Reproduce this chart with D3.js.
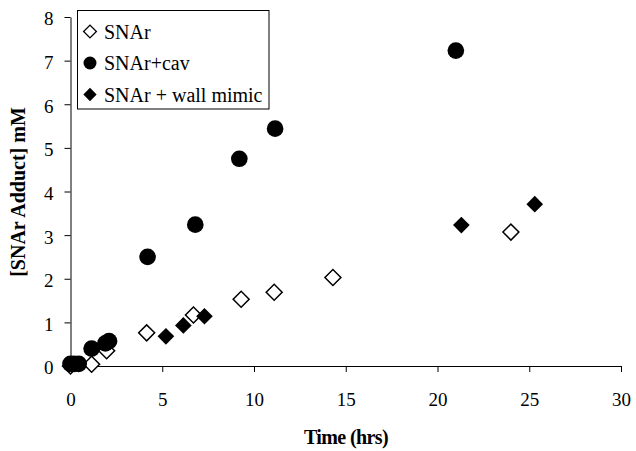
<!DOCTYPE html>
<html>
<head>
<meta charset="utf-8">
<script src="https://cdn.jsdelivr.net/npm/d3@7"></script>
<style>
  body { margin: 0; background: #fff; }
  svg text { font-family: 'Liberation Serif', 'Times New Roman', serif; fill: #000; }
</style>
</head>
<body>
<svg width="636" height="451"></svg>
<script>
// Data
const snarTime = [0, 1.15, 1.97, 4.15, 6.7, 9.3, 11.1, 14.3, 24.0];
const snarVal = [0, 0.04, 0.35, 0.76, 1.17, 1.53, 1.69, 2.03, 3.07];

const cavTime = [0, 0.2, 0.45, 1.15, 1.9, 2.1, 4.2, 6.8, 9.2, 11.15, 21.0];
const cavVal = [0.05, 0.05, 0.05, 0.4, 0.52, 0.57, 2.5, 3.24, 4.75, 5.44, 7.23];

const wallTime = [5.2, 6.15, 7.3, 21.3, 25.3];
const wallVal = [0.68, 0.93, 1.14, 3.23, 3.71];

const xTicks = [0, 5, 10, 15, 20, 25, 30];
const yTicks = [0, 1, 2, 3, 4, 5, 6, 7, 8];

const seriesNames = ['SNAr', 'SNAr+cav', 'SNAr + wall mimic'];

const svg = d3.select('svg');

const x = d3.scaleLinear().domain([0, 30]).range([70.5, 621]);
const y = d3.scaleLinear().domain([0, 8]).range([366, 17]);

// axes
const xAxis = svg.append('g')
  .attr('transform', `translate(0,${y(0)})`)
  .call(d3.axisBottom(x).tickValues(xTicks).tickSize(6).tickPadding(21).tickSizeOuter(0));
const yAxis = svg.append('g')
  .attr('transform', `translate(${x(0)},0)`)
  .call(d3.axisLeft(y).tickValues(yTicks).tickSize(6).tickPadding(11).tickSizeOuter(0));

[xAxis, yAxis].forEach((a) => {
  a.selectAll('path, line').attr('stroke', '#000').attr('stroke-width', 1);
  a.selectAll('text').style('font-size', '19px').style('font-family', "'Liberation Serif', serif");
});
yAxis.selectAll('text').attr('dy', '0.42em');

// axis titles
svg.append('text')
  .attr('x', 346)
  .attr('y', 444)
  .attr('text-anchor', 'middle')
  .style('font-size', '20px')
  .style('font-weight', 'bold')
  .style('letter-spacing', '-0.6px')
  .text('Time (hrs)');

svg.append('text')
  .attr('transform', 'translate(25,192) rotate(-90)')
  .attr('text-anchor', 'middle')
  .style('font-size', '20px')
  .style('font-weight', 'bold')
  .text('[SNAr Adduct] mM');

// markers
const diamond = (size) => d3.symbol(d3.symbolSquare, size)();
const circle = (size) => d3.symbol(d3.symbolCircle, size)();

const snar = snarTime.map((t, i) => ({ t, v: snarVal[i] }));
const cav = cavTime.map((t, i) => ({ t, v: cavVal[i] }));
const wall = wallTime.map((t, i) => ({ t, v: wallVal[i] }));

const plot = svg.append('g');

plot.selectAll('.snar')
  .data(snar)
  .enter()
  .append('path')
  .attr('class', 'snar')
  .attr('d', diamond(128))
  .attr('transform', (d) => `translate(${x(d.t)},${y(d.v)}) rotate(45)`)
  .attr('fill', '#fff')
  .attr('stroke', '#000')
  .attr('stroke-width', 1.5);

plot.selectAll('.cav')
  .data(cav)
  .enter()
  .append('path')
  .attr('class', 'cav')
  .attr('d', circle(218))
  .attr('transform', (d) => `translate(${x(d.t)},${y(d.v)})`)
  .attr('fill', '#000');

plot.selectAll('.wall')
  .data(wall)
  .enter()
  .append('path')
  .attr('class', 'wall')
  .attr('d', diamond(139))
  .attr('transform', (d) => `translate(${x(d.t)},${y(d.v)}) rotate(45)`)
  .attr('fill', '#000');

// legend
const legend = svg.append('g');
legend.append('rect')
  .attr('x', 77.5)
  .attr('y', 10.5)
  .attr('width', 191.5)
  .attr('height', 98.5)
  .attr('fill', '#fff')
  .attr('stroke', '#000')
  .attr('stroke-width', 1);

const legendRows = [
  { name: seriesNames[0], d: diamond(82), rot: 45, fill: '#fff', stroke: '#000' },
  { name: seriesNames[1], d: circle(132), rot: 0, fill: '#000', stroke: 'none' },
  { name: seriesNames[2], d: diamond(88), rot: 45, fill: '#000', stroke: 'none' }
];

legendRows.forEach((r, i) => {
  const cy = 31.5 + i * 31.5;
  legend.append('path')
    .attr('d', r.d)
    .attr('transform', `translate(90,${cy}) rotate(${r.rot})`)
    .attr('fill', r.fill)
    .attr('stroke', r.stroke)
    .attr('stroke-width', 1.3);
  legend.append('text')
    .attr('x', 104)
    .attr('y', cy + 7)
    .style('font-size', '20px')
    .text(r.name);
});
</script>
</body>
</html>
